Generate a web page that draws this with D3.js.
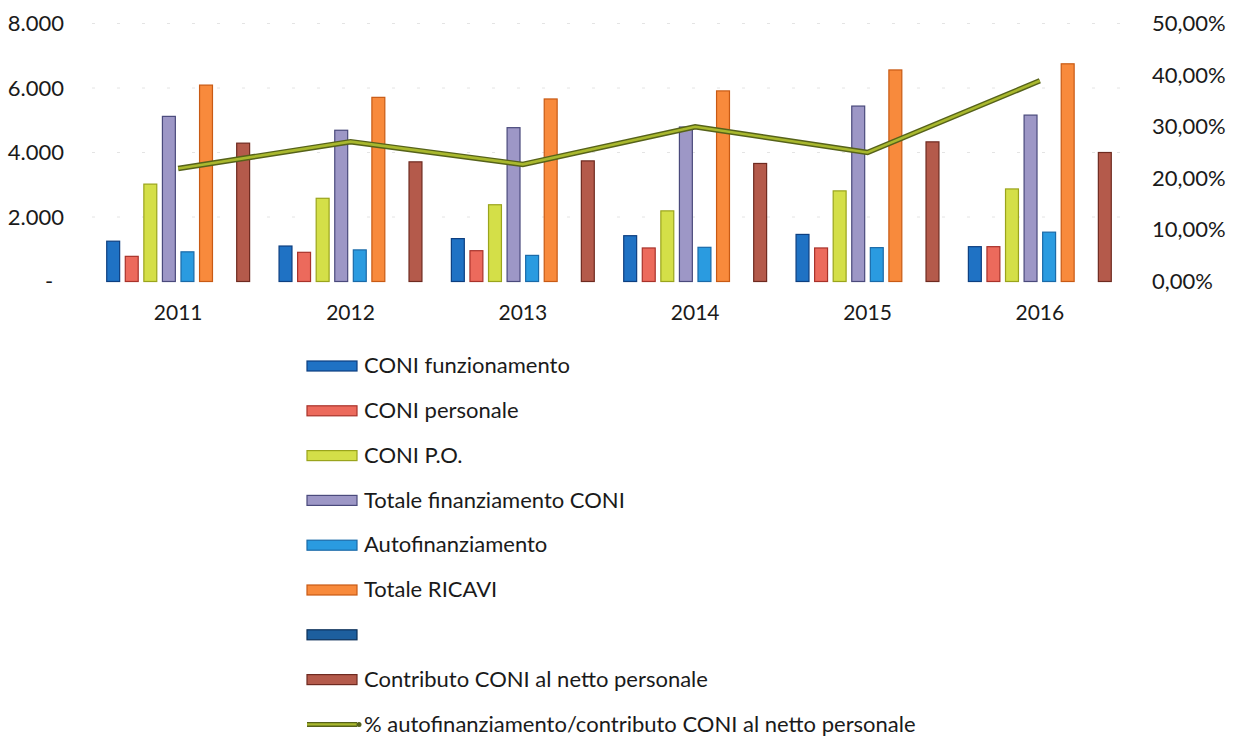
<!DOCTYPE html>
<html>
<head>
<meta charset="utf-8">
<script src="https://cdn.jsdelivr.net/npm/d3@7"></script>
<style>
  html, body { margin: 0; padding: 0; background: #fff; }
  svg { display: block; }
  text { font-family: Lato, "Open Sans", sans-serif; fill: #1a1a1a; }
</style>
</head>
<body>
<svg id="chart" width="1237" height="737"></svg>
<script>
const years = ["2011", "2012", "2013", "2014", "2015", "2016"];
const seriesNames = [
  "CONI funzionamento",
  "CONI personale",
  "CONI P.O.",
  "Totale finanziamento CONI",
  "Autofinanziamento",
  "Totale RICAVI",
  "",
  "Contributo CONI al netto personale"
];
const coniFunzionamento = [1250, 1100, 1330, 1420, 1460, 1080];
const coniPersonale     = [780, 905, 955, 1040, 1040, 1080];
const coniPO            = [3020, 2580, 2380, 2190, 2810, 2870];
const totaleFinanz      = [5120, 4690, 4770, 4790, 5440, 5160];
const autofinanziamento = [920, 980, 810, 1060, 1050, 1530];
const totaleRicavi      = [6090, 5710, 5660, 5910, 6560, 6750];
const vuota             = [0, 0, 0, 0, 0, 0];
const contributoNetto   = [4290, 3710, 3740, 3660, 4330, 4000];
const lineName = "% autofinanziamento/contributo CONI al netto personale";
const percAuto = [21.9, 27.1, 22.7, 30.0, 25.0, 38.9];

const leftTicks = [0, 2000, 4000, 6000, 8000];
const rightTicks = [0, 10, 20, 30, 40, 50];

const fills   = ["#1f72c4", "#ec6a5c", "#d4df48", "#9d97c6", "#2a9be0", "#f88a3c", "#1d5f9e", "#b45a4b"];
const strokes = ["#0d3f80", "#a8322a", "#9aa41c", "#4a4a7c", "#1a6aa8", "#c85a14", "#0b2f58", "#6e2a20"];

const seriesValues = [coniFunzionamento, coniPersonale, coniPO, totaleFinanz,
                      autofinanziamento, totaleRicavi, vuota, contributoNetto];

const svg = d3.select("#chart");
const plot = { left: 92, right: 1126, top: 23.5, bottom: 281.5 };

const x0 = d3.scaleBand().domain(years).range([plot.left, plot.right])
  .paddingInner(0.165).paddingOuter(0.0825);
const x1 = d3.scaleBand().domain(d3.range(8)).range([0, x0.bandwidth()])
  .paddingInner(0.25).paddingOuter(0);
const y = d3.scaleLinear().domain([0, 8000]).range([plot.bottom, plot.top]);
const y2 = d3.scaleLinear().domain([0, 50]).range([plot.bottom, plot.top]);

// faint gridlines
svg.append("g").selectAll("line").data(leftTicks.slice(1)).join("line")
  .attr("x1", plot.left).attr("x2", plot.right)
  .attr("y1", d => y(d)).attr("y2", d => y(d))
  .attr("stroke", "#e4e4e4").attr("stroke-width", 1)
  .attr("stroke-dasharray", "3,22");

// bars
const groups = svg.append("g").selectAll("g").data(years).join("g")
  .attr("transform", d => `translate(${x0(d)},0)`);
groups.selectAll("rect")
  .data((yr, i) => seriesValues.map((arr, s) => ({ s, v: arr[i] })).filter(d => d.v > 0))
  .join("rect")
  .attr("x", d => x1(d.s) + 0.5)
  .attr("width", x1.bandwidth() - 1)
  .attr("y", d => y(d.v))
  .attr("height", d => y(0) - y(d.v))
  .attr("fill", d => fills[d.s])
  .attr("stroke", d => strokes[d.s])
  .attr("stroke-width", 1.2);

// line
const lineGen = d3.line()
  .x((d, i) => x0(years[i]) + x0.bandwidth() / 2)
  .y(d => y2(d));
svg.append("path").datum(percAuto).attr("d", lineGen)
  .attr("fill", "none").attr("stroke", "#56621a").attr("stroke-width", 5.5);
svg.append("path").datum(percAuto).attr("d", lineGen)
  .attr("fill", "none").attr("stroke", "#a9b82e").attr("stroke-width", 2.6);

// left axis
const yAxis = d3.axisLeft(y).tickValues(leftTicks).tickSize(0).tickPadding(0)
  .tickFormat(d => d === 0 ? "-" : d3.format(",")(d).replace(/,/g, "."));
const gy = svg.append("g").attr("transform", "translate(64,0)").call(yAxis);
gy.select(".domain").remove();
gy.selectAll("text").style("font-size", "22px").attr("fill", "#1a1a1a")
  .attr("x", d => d === 0 ? -15 : 0)
  .attr("text-anchor", d => d === 0 ? "middle" : "end");

// right axis
const y2Axis = d3.axisRight(y2).tickValues(rightTicks).tickSize(0).tickPadding(0)
  .tickFormat(d => d3.format(".2f")(d).replace(".", ",") + "%");
const gy2 = svg.append("g").attr("transform", "translate(1152,0)").call(y2Axis);
gy2.select(".domain").remove();
gy2.selectAll("text").style("font-size", "22px").attr("fill", "#1a2a40");

// x axis
const xAxis = d3.axisBottom(x0).tickSize(0).tickPadding(0);
const gx = svg.append("g").attr("transform", "translate(0,305)").call(xAxis);
gx.select(".domain").remove();
gx.selectAll("text").style("font-size", "21px").attr("fill", "#1a1a1a");

// legend
const legendRows = seriesNames.map((n, i) => ({ name: n, type: "bar", i }))
  .concat([{ name: lineName, type: "line", i: 8 }]);
const leg = svg.append("g").selectAll("g").data(legendRows).join("g")
  .attr("transform", (d, i) => `translate(307,${366 + i * 44.8})`);
leg.filter(d => d.type === "bar").append("rect")
  .attr("x", 0).attr("y", -5).attr("width", 50).attr("height", 10)
  .attr("fill", d => fills[d.i]).attr("stroke", d => strokes[d.i]).attr("stroke-width", 1.2);
const legLine = leg.filter(d => d.type === "line");
legLine.append("line")
  .attr("x1", 0).attr("x2", 50).attr("y1", 0).attr("y2", 0)
  .attr("stroke", "#56621a").attr("stroke-width", 5);
legLine.append("line")
  .attr("x1", 0).attr("x2", 50).attr("y1", 0).attr("y2", 0)
  .attr("stroke", "#a9b82e").attr("stroke-width", 2.4);
legLine.append("circle").attr("cx", 52).attr("cy", 0).attr("r", 2.5)
  .attr("fill", "#56621a");
leg.append("text").attr("x", 57).attr("y", 0).attr("dy", "0.33em")
  .style("font-size", "22px").text(d => d.name);
</script>
</body>
</html>
